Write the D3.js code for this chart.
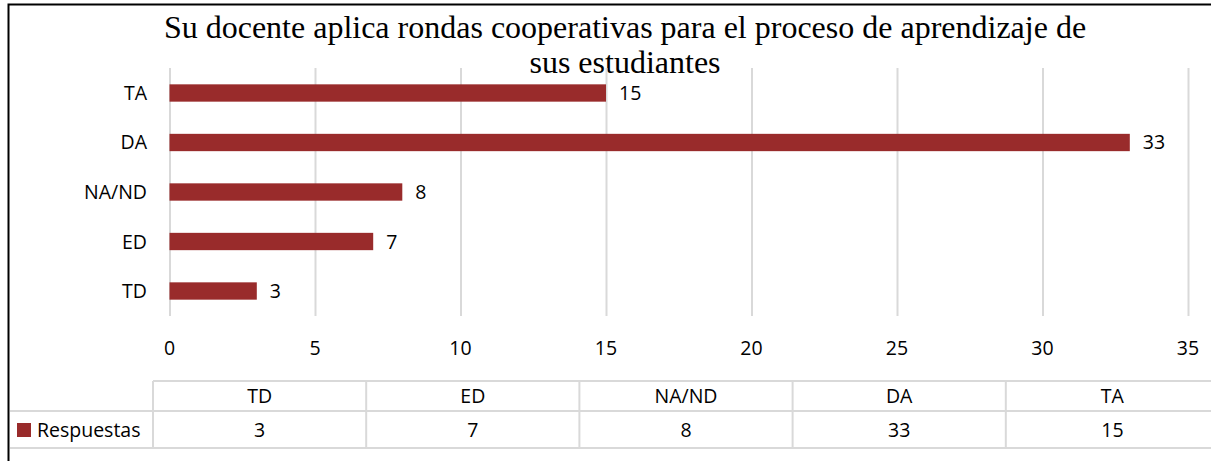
<!DOCTYPE html>
<html>
<head>
<meta charset="utf-8">
<script src="https://cdn.jsdelivr.net/npm/d3@7"></script>
<style>
  body { margin: 0; background: #fff; }
  svg { display: block; }
</style>
</head>
<body>
<div id="chart"></div>
<script>
let width = 1211
let height = 461

// data
let categories = ["TD", "ED", "NA/ND", "DA", "TA"]
let respuestas = [3, 7, 8, 33, 15]
let xTicks = [0, 5, 10, 15, 20, 25, 30, 35]
let seriesName = "Respuestas"
let titleLines = ["Su docente aplica rondas cooperativas para el proceso de aprendizaje de", "sus estudiantes"]

let barColor = "#992b2b"
let gridColor = "#d9d9d9"
let sans = "'Open Sans', 'Noto Sans', sans-serif"
let fontSize = "19.5px"

let svg = d3.select("#chart")
            .append("svg")
            .attr("width", width)
            .attr("height", height)

// outer frame (left + top)
svg.append("path")
    .attr("d", "M8.5,461 L8.5,4.5 L1211,4.5")
    .attr("fill", "none")
    .attr("stroke", "#000")
    .attr("stroke-width", 2)

// title
svg.append("text")
    .attr("x", 625)
    .attr("y", 38)
    .attr("text-anchor", "middle")
    .style("font-family", "'Liberation Serif', 'Times New Roman', serif")
    .style("font-size", "32px")
    .selectAll("tspan")
    .data(titleLines)
    .enter()
    .append("tspan")
    .attr("x", 625)
    .attr("dy", (d, i) => i == 0 ? 0 : 35)
    .text(d => d)

let xScale = d3.scaleLinear()
    .domain([0, 35])
    .range([169.5, 1188])

// top to bottom: TA, DA, NA/ND, ED, TD
let yScale = d3.scaleBand()
    .domain(categories.slice().reverse())
    .range([68, 316])
    .paddingInner(0.65)
    .paddingOuter(0.33)

// gridlines
let xAxis = d3.axisBottom()
    .scale(xScale)
    .tickValues(xTicks)
    .tickSize(-(316 - 68))
    .tickFormat("")

let grid = svg.append("g")
    .attr("class", "grid")
    .attr("transform", "translate(0,316)")
    .call(xAxis)
grid.select(".domain").remove()
grid.selectAll("line").attr("stroke", gridColor).attr("stroke-width", 2)

// tick labels
svg.append("g")
    .selectAll("text")
    .data(xTicks)
    .enter()
    .append("text")
    .attr("x", d => xScale(d))
    .attr("y", 355)
    .attr("text-anchor", "middle")
    .style("font-family", sans)
    .style("font-size", fontSize)
    .text(d => d)

// category labels
svg.append("g")
    .selectAll("text")
    .data(categories)
    .enter()
    .append("text")
    .attr("x", 147)
    .attr("y", d => yScale(d) + yScale.bandwidth() / 2 + 7)
    .attr("text-anchor", "end")
    .style("font-family", sans)
    .style("font-size", fontSize)
    .text(d => d)

// bars
svg.selectAll("rect.bar")
    .data(respuestas)
    .enter()
    .append("rect")
    .attr("class", "bar")
    .attr("fill", barColor)
    .attr("x", xScale(0))
    .attr("y", (d, i) => yScale(categories[i]))
    .attr("width", d => xScale(d) - xScale(0))
    .attr("height", yScale.bandwidth())

// data labels
svg.append("g")
    .selectAll("text")
    .data(respuestas)
    .enter()
    .append("text")
    .attr("x", d => xScale(d) + 13)
    .attr("y", (d, i) => yScale(categories[i]) + yScale.bandwidth() / 2 + 7)
    .style("font-family", sans)
    .style("font-size", fontSize)
    .text(d => d)

// data table
let colScale = d3.scaleBand()
    .domain(categories)
    .range([153, 1219])

let table = svg.append("g").attr("stroke", gridColor).attr("stroke-width", 2)
table.append("line").attr("x1", 153).attr("x2", 1219).attr("y1", 381).attr("y2", 381)
table.append("line").attr("x1", 10).attr("x2", 1219).attr("y1", 411).attr("y2", 411)
table.append("line").attr("x1", 10).attr("x2", 1219).attr("y1", 448).attr("y2", 448)
table.selectAll("line.col")
    .data(categories)
    .enter()
    .append("line")
    .attr("class", "col")
    .attr("x1", d => colScale(d))
    .attr("x2", d => colScale(d))
    .attr("y1", 381)
    .attr("y2", 448)

svg.append("g")
    .selectAll("text")
    .data(categories)
    .enter()
    .append("text")
    .attr("x", d => colScale(d) + colScale.bandwidth() / 2)
    .attr("y", 403)
    .attr("text-anchor", "middle")
    .style("font-family", sans)
    .style("font-size", fontSize)
    .text(d => d)

svg.append("g")
    .selectAll("text")
    .data(respuestas)
    .enter()
    .append("text")
    .attr("x", (d, i) => colScale(categories[i]) + colScale.bandwidth() / 2)
    .attr("y", 437)
    .attr("text-anchor", "middle")
    .style("font-family", sans)
    .style("font-size", fontSize)
    .text(d => d)

// legend key
svg.append("rect")
    .attr("x", 17)
    .attr("y", 423)
    .attr("width", 14)
    .attr("height", 14)
    .attr("fill", barColor)

svg.append("text")
    .attr("x", 37)
    .attr("y", 437)
    .style("font-family", sans)
    .style("font-size", fontSize)
    .text(seriesName)
</script>
</body>
</html>
